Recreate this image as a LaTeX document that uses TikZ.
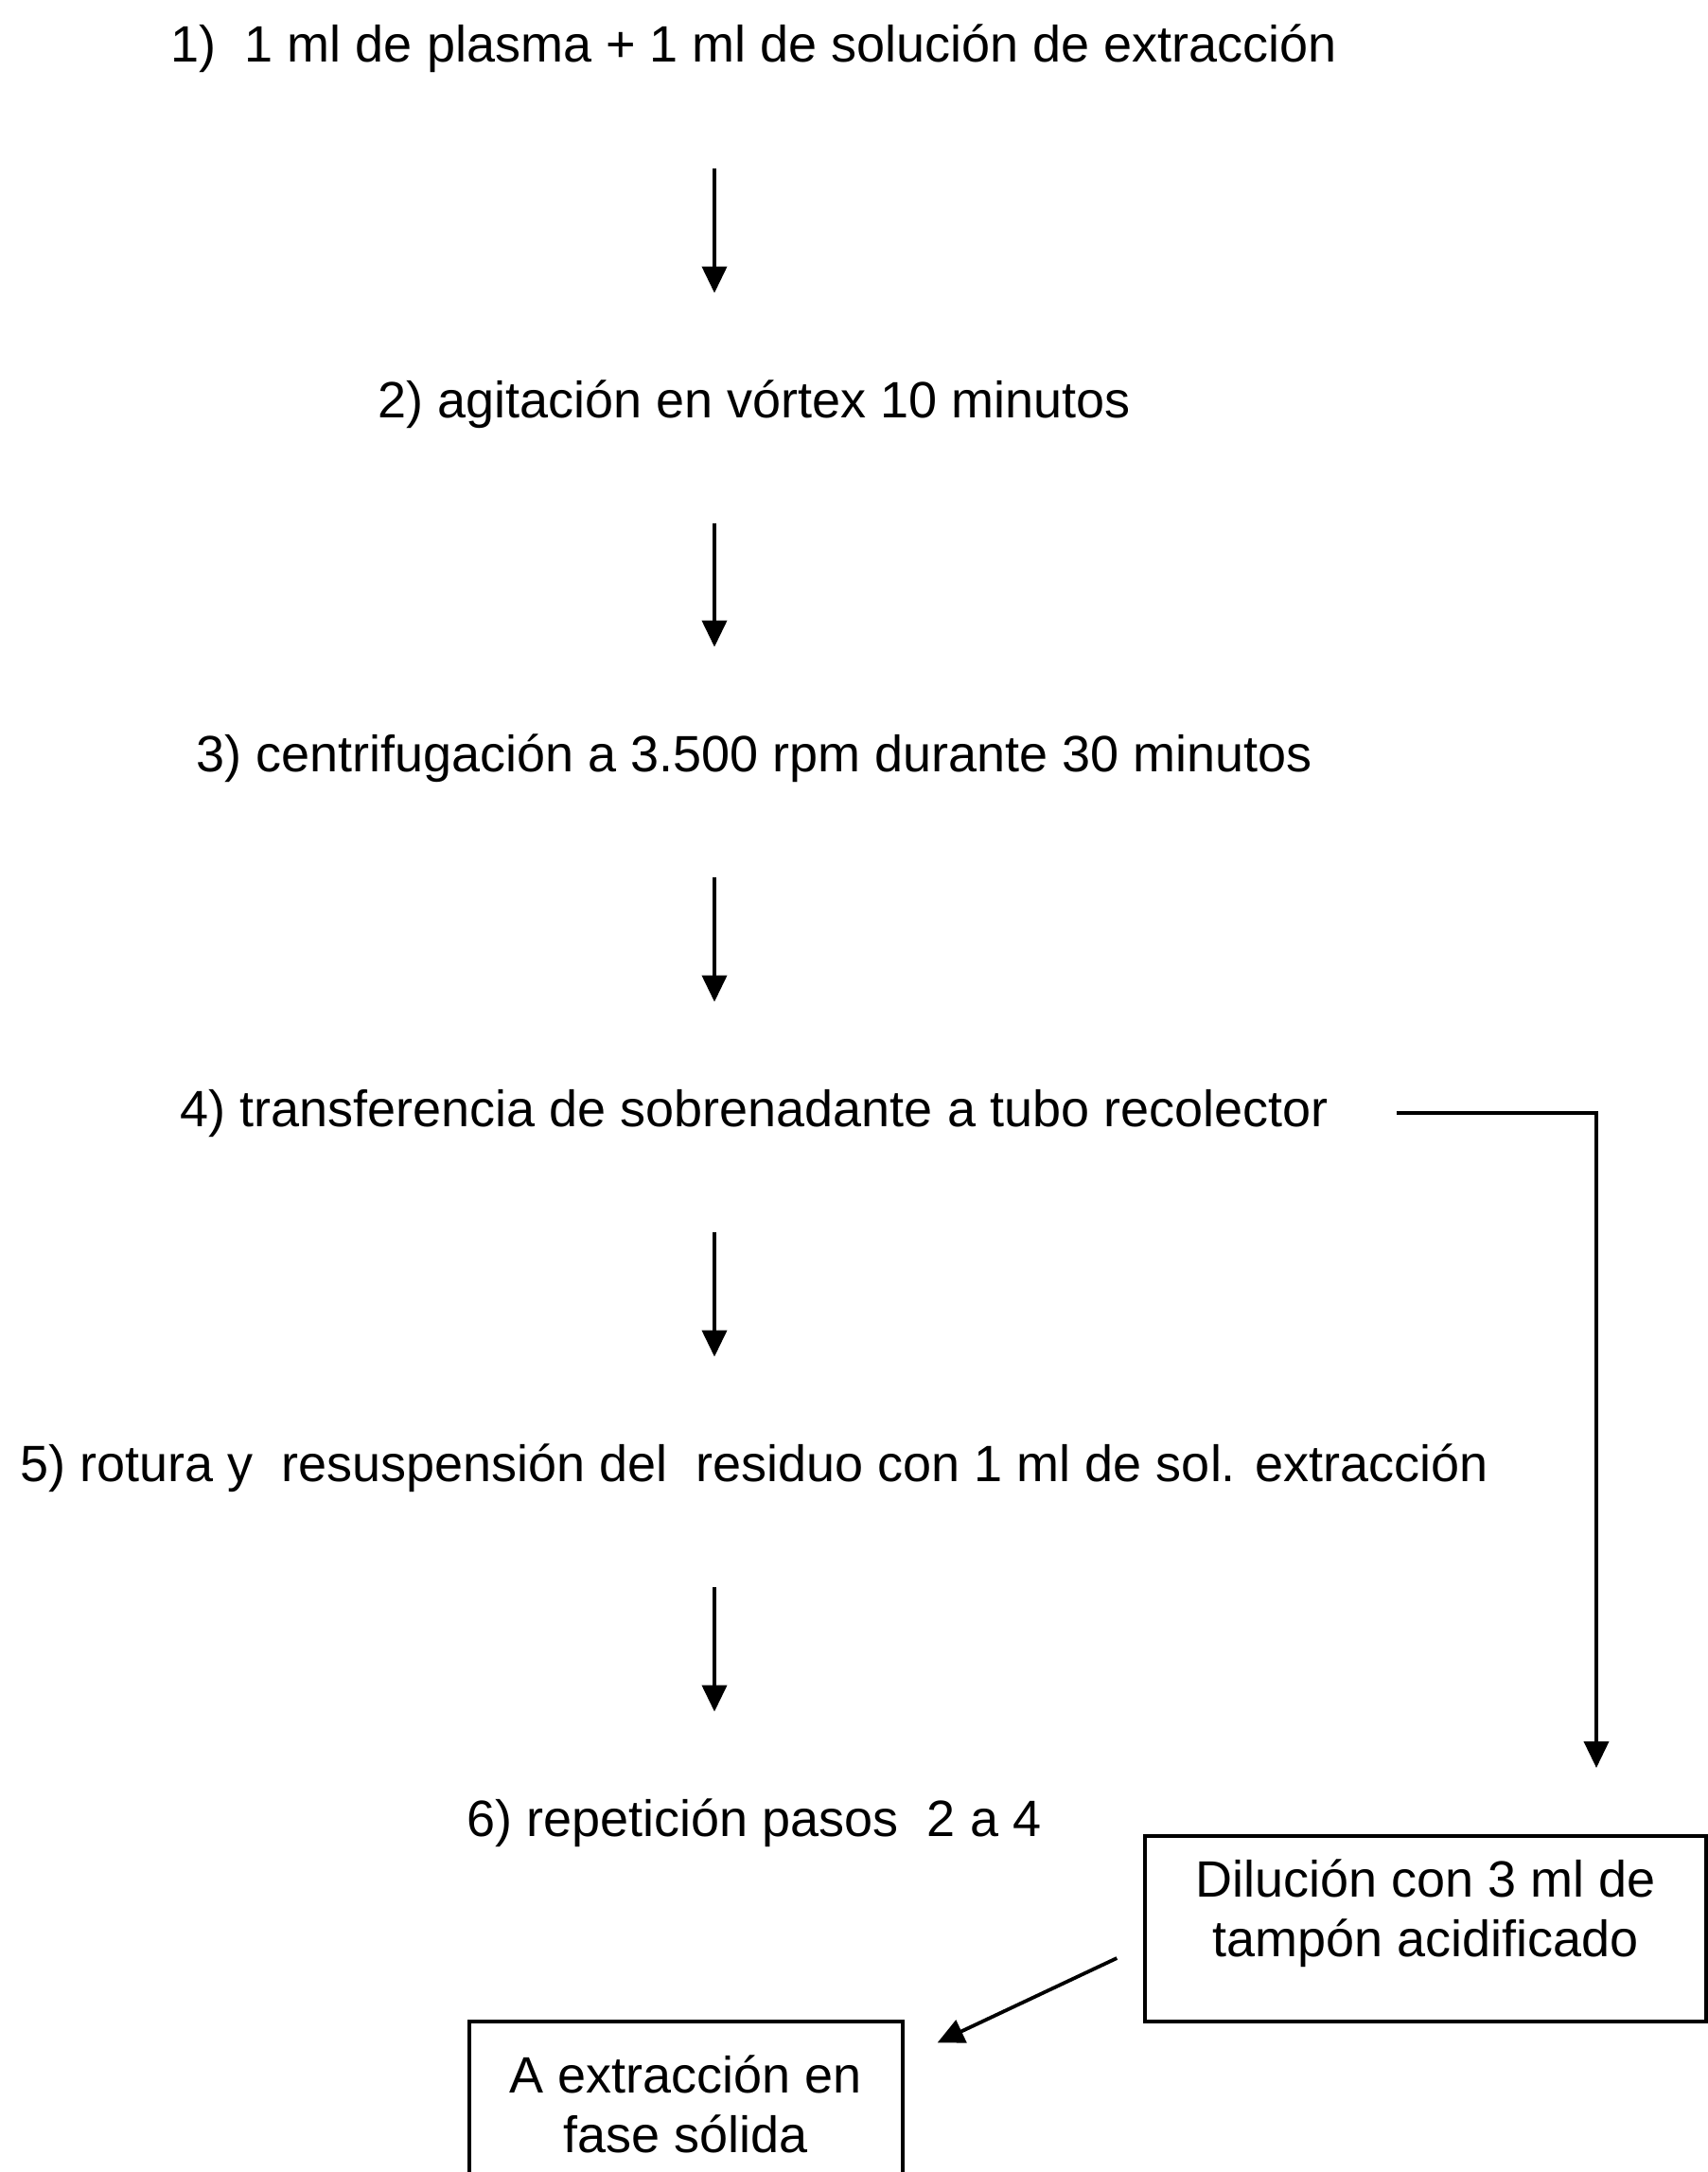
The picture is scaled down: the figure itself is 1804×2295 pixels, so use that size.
\documentclass[tikz,border=0pt]{standalone}
\usepackage{fontspec}
\setmainfont{Liberation Sans}
\usetikzlibrary{arrows.meta,positioning,calc}

\begin{document}
\begin{tikzpicture}[x=0.5pt,y=-0.5pt,
  stepnode/.style={anchor=base,inner sep=0pt,text height=19pt,text depth=5pt,font=\fontsize{27}{31.5}\selectfont},
  boxnode/.style={draw,line width=1.7pt,align=center,inner sep=0pt,font=\fontsize{27}{31.5}\selectfont},
  arr/.style={-{Triangle[length=14pt,width=13pt]},line width=1.9pt}]
\useasboundingbox (0,0) rectangle (1804,2295);
\coordinate (ax) at (755,0);
\node[stepnode] (s1) at (797,66) {1)\ \ 1 ml de plasma + 1 ml de solución de extracción};
\node[stepnode] (s2) at (797,441) {2) agitación en vórtex 10 minutos};
\node[stepnode] (s3) at (797,815) {3) centrifugación a 3.500 rpm durante 30 minutos};
\node[stepnode] (s4) at (797,1190) {4) transferencia de sobrenadante a tubo recolector};
\node[stepnode] (s5) at (797,1565) {5) rotura y\ \ resuspensión del\ \ residuo con 1 ml de sol. extracción};
\node[stepnode] (s6) at (797,1940) {6) repetición pasos\ \ 2 a 4};
\node[boxnode,minimum width=296.5pt,minimum height=98pt,text depth=22pt] (dil) at (1506.5,2038) {Dilución con 3 ml de\\tampón acidificado};
\node[boxnode,minimum width=229pt,minimum height=87pt] (fase) at (725,2223) {A extracción en\\fase sólida};
\coordinate (rt) at (1687,1868);
\draw[arr,shorten <=51pt,shorten >=46.5pt] (s1.south -| ax) -- (s2.north -| ax);
\draw[arr,shorten <=51pt,shorten >=46.5pt] (s2.south -| ax) -- (s3.north -| ax);
\draw[arr,shorten <=51pt,shorten >=46.5pt] (s3.south -| ax) -- (s4.north -| ax);
\draw[arr,shorten <=51pt,shorten >=46.5pt] (s4.south -| ax) -- (s5.north -| ax);
\draw[arr,shorten <=51pt,shorten >=46.5pt] (s5.south -| ax) -- (s6.north -| ax);
\draw[arr,shorten <=36pt] (s4.east) -- (s4.east -| rt) -- (rt);
\draw[arr] ($(dil.west)+(-28,31)$) -- ($(fase.north east)+(35,24)$);
\end{tikzpicture}
\end{document}
